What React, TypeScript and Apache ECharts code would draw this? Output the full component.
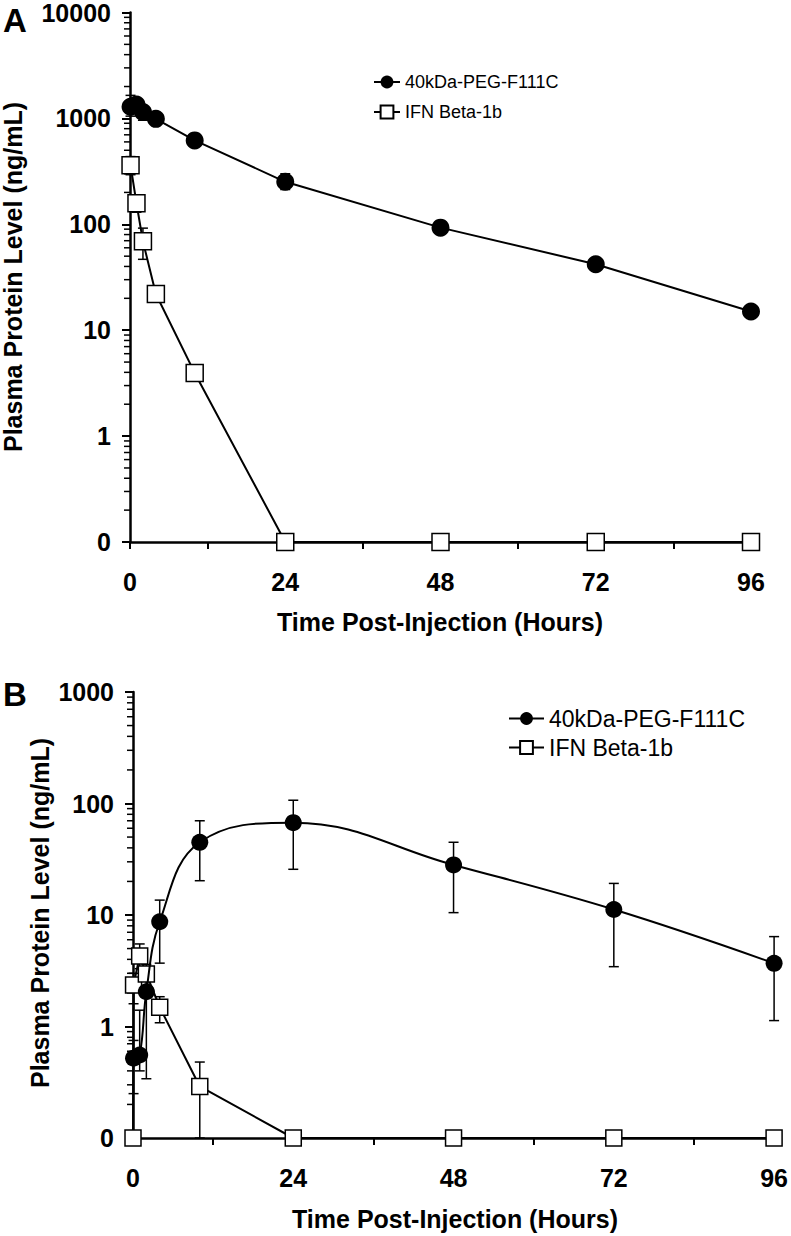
import React, { useEffect, useRef } from "react";
import * as echarts from "echarts";

// ---------- Panel A data ----------
const timesA = [0.083, 1, 2, 4, 10, 24, 48, 72, 96];
const pegA = [1290, 1350, 1150, 990, 620, 252, 93, 42, 15];
const pegA_lo = [1050, 1150, 960, 900, 560, 213, 85, 38, 13.5];
const pegA_hi = [1650, 1500, 1300, 1100, 690, 300, 100, 46, 16.5];
const ifnA = [362, 158, 69, 22, 3.95, 0.1, 0.1, 0.1, 0.1];
const ifnA_lo = [294, 130, 46.7, 19, 3.5, 0.1, 0.1, 0.1, 0.1];
const ifnA_hi = [436, 180, 92, 25, 4.5, 0.1, 0.1, 0.1, 0.1];

// ---------- Panel B data ----------
const timesPegB = [0.083, 1, 2, 4, 10, 24, 48, 72, 96];
const pegB = [0.52, 0.555, 2.05, 8.7, 44.9, 67.3, 28.1, 11.2, 3.69];
const pegB_lo = [0.25, 0.4, 0.34, 3.7, 20.3, 25.7, 10.5, 3.44, 1.13];
const pegB_hi = [0.75, 1.4, 2.6, 13.6, 70, 107, 44.9, 19.2, 6.4];
const timesIfnB = [0, 0.083, 1, 2, 4, 10, 24, 48, 72, 96];
const ifnB = [0.1, 2.36, 4.29, 2.96, 1.49, 0.29, 0.1, 0.1, 0.1, 0.1];
const ifnB_lo = [0.1, 1.6, 3.3, 2.3, 1.08, 0.1, 0.1, 0.1, 0.1, 0.1];
const ifnB_hi = [0.1, 3.0, 5.5, 3.6, 1.85, 0.48, 0.1, 0.1, 0.1, 0.1];

const xTicks = [0, 24, 48, 72, 96];
const minorMult = [2, 3, 4, 5, 6, 7, 8, 9];
const decadesA = [0.1, 1, 10, 100, 1000];
const decadesB = [0.1, 1, 10, 100];

const PEG = "40kDa-PEG-F111C";
const IFN = "IFN Beta-1b";
const FONT = "Liberation Sans, Arial, sans-serif";

export default function App() {
  const ref = useRef<HTMLDivElement>(null);
  useEffect(() => {
    document.body.style.margin = "0";
    const chart = echarts.init(ref.current!, null, { renderer: "svg" });

    const minorA = decadesA.flatMap((d) => minorMult.map((m) => [0, d * m]));
    const minorB = decadesB.flatMap((d) => minorMult.map((m) => [0, d * m]));

    const errRender = (params: any, api: any) => {
      const x = api.value(0);
      const lo = api.coord([x, api.value(1)]);
      const hi = api.coord([x, api.value(2)]);
      const cw = 5;
      const style = { stroke: "#000", lineWidth: 1.5 };
      return {
        type: "group",
        children: [
          { type: "line", shape: { x1: lo[0], y1: lo[1], x2: hi[0], y2: hi[1] }, style },
          { type: "line", shape: { x1: lo[0] - cw, y1: lo[1], x2: lo[0] + cw, y2: lo[1] }, style },
          { type: "line", shape: { x1: hi[0] - cw, y1: hi[1], x2: hi[0] + cw, y2: hi[1] }, style },
        ],
      };
    };
    const minorRender = (params: any, api: any) => {
      const p = api.coord([0, api.value(1)]);
      return {
        type: "line",
        shape: { x1: p[0] - 6, y1: p[1], x2: p[0], y2: p[1] },
        style: { stroke: "#000", lineWidth: 1.5 },
      };
    };

    const xAxisBase = (gi: number) => ({
      type: "value",
      gridIndex: gi,
      min: 0,
      max: 96,
      interval: 12,
      axisLine: { onZero: false, lineStyle: { color: "#000", width: 2.5 } },
      axisTick: { length: 7, lineStyle: { color: "#000", width: 2 } },
      splitLine: { show: false },
      axisLabel: {
        margin: 27,
        color: "#000",
        fontFamily: FONT,
        fontWeight: "bold",
        fontSize: 25,
        formatter: (v: number) => (xTicks.includes(v) ? String(v) : ""),
      },
    });
    const yAxisBase = (gi: number, max: number, split: number) => ({
      type: "log",
      logBase: 10,
      gridIndex: gi,
      min: 0.1,
      max,
      splitNumber: split,
      axisLine: { lineStyle: { color: "#000", width: 2.5 } },
      axisTick: { length: 8, lineStyle: { color: "#000", width: 2 } },
      splitLine: { show: false },
      axisLabel: {
        margin: 19,
        color: "#000",
        fontFamily: FONT,
        fontWeight: "bold",
        fontSize: 25,
        formatter: (v: number) => (v < 0.5 ? "0" : String(Math.round(v))),
      },
    });

    const zip = (t: number[], a: number[]) => t.map((x, i) => [x, a[i]]);
    const zip3 = (t: number[], a: number[], b: number[]) => t.map((x, i) => [x, a[i], b[i]]);

    const circleStyle = { color: "#000" };
    const squareStyle = { color: "#fff", borderColor: "#000", borderWidth: 1.5 };
    const lineStyle = { color: "#000", width: 2 };

    const legendBase = (left: number, top: number, fs: number, iw: number, gap: number) => ({
      left,
      top,
      orient: "vertical",
      itemWidth: iw,
      itemHeight: 16,
      itemGap: gap,
      selectedMode: false,
      textStyle: { fontFamily: FONT, fontSize: fs, color: "#000" },
      data: [PEG, IFN],
    });

    const titleStyle = (fs: number) => ({
      fontFamily: FONT,
      fontWeight: "bold",
      fontSize: fs,
      fill: "#000",
    });

    const option: any = {
      animation: false,
      backgroundColor: "#fff",
      grid: [
        { left: 130, top: 11, width: 621, height: 531 },
        { left: 133, top: 692, width: 644, height: 446 },
      ],
      xAxis: [xAxisBase(0), xAxisBase(1)],
      yAxis: [yAxisBase(0, 10000, 5), yAxisBase(1, 1000, 4)],
      legend: [legendBase(368, 68, 18, 26, 12), legendBase(503, 702, 23, 35, 6)],
      series: [
        // minor ticks
        { type: "custom", xAxisIndex: 0, yAxisIndex: 0, data: minorA, renderItem: minorRender, clip: false, silent: true, z: 1 },
        { type: "custom", xAxisIndex: 1, yAxisIndex: 1, data: minorB, renderItem: minorRender, clip: false, silent: true, z: 1 },
        // error bars
        { type: "custom", xAxisIndex: 0, yAxisIndex: 0, data: zip3(timesA, pegA_lo, pegA_hi), renderItem: errRender, encode: { x: 0, y: [1, 2] }, clip: false, silent: true, z: 2 },
        { type: "custom", xAxisIndex: 0, yAxisIndex: 0, data: zip3(timesA, ifnA_lo, ifnA_hi), renderItem: errRender, encode: { x: 0, y: [1, 2] }, clip: false, silent: true, z: 2 },
        { type: "custom", xAxisIndex: 1, yAxisIndex: 1, data: zip3(timesPegB, pegB_lo, pegB_hi), renderItem: errRender, encode: { x: 0, y: [1, 2] }, clip: false, silent: true, z: 2 },
        { type: "custom", xAxisIndex: 1, yAxisIndex: 1, data: zip3(timesIfnB, ifnB_lo, ifnB_hi), renderItem: errRender, encode: { x: 0, y: [1, 2] }, clip: false, silent: true, z: 2 },
        // Panel A
        { name: IFN, type: "line", xAxisIndex: 0, yAxisIndex: 0, data: zip(timesA, ifnA), symbol: "rect", symbolSize: 17, itemStyle: squareStyle, lineStyle, clip: false, z: 3 },
        { name: PEG, type: "line", xAxisIndex: 0, yAxisIndex: 0, data: zip(timesA, pegA), symbol: "circle", symbolSize: 18, itemStyle: circleStyle, lineStyle, clip: false, z: 4 },
        // Panel B
        { name: IFN, type: "line", xAxisIndex: 1, yAxisIndex: 1, data: zip(timesIfnB, ifnB), symbol: "rect", symbolSize: 16, itemStyle: squareStyle, lineStyle, clip: false, z: 3 },
        { name: PEG, type: "line", xAxisIndex: 1, yAxisIndex: 1, data: zip(timesPegB, pegB), smooth: 0.4, symbol: "circle", symbolSize: 17, itemStyle: circleStyle, lineStyle, clip: false, z: 4 },
      ],
      graphic: [
        { type: "text", x: 3, y: 4, style: { text: "A", ...titleStyle(33) } },
        { type: "text", x: 3, y: 678, style: { text: "B", ...titleStyle(33) } },
        { type: "text", x: 13, y: 277, rotation: Math.PI / 2, style: { text: "Plasma Protein Level (ng/mL)", ...titleStyle(25), align: "center", verticalAlign: "middle" } },
        { type: "text", x: 40, y: 913, rotation: Math.PI / 2, style: { text: "Plasma Protein Level (ng/mL)", ...titleStyle(25), align: "center", verticalAlign: "middle" } },
        { type: "text", x: 440, y: 622, style: { text: "Time Post-Injection (Hours)", ...titleStyle(25), align: "center", verticalAlign: "middle" } },
        { type: "text", x: 455, y: 1219, style: { text: "Time Post-Injection (Hours)", ...titleStyle(25), align: "center", verticalAlign: "middle" } },
      ],
    };
    chart.setOption(option);
    return () => chart.dispose();
  }, []);
  return <div ref={ref} style={{ width: 791, height: 1236 }} />;
}
